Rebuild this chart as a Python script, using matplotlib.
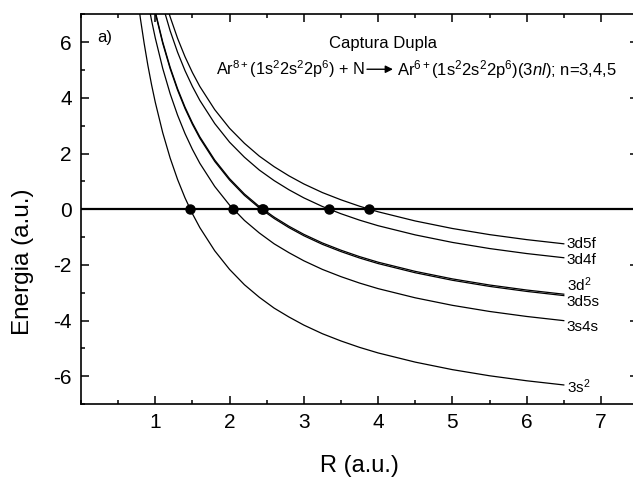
import matplotlib
matplotlib.use('Agg')
import matplotlib.pyplot as plt
from matplotlib.ticker import MultipleLocator

plt.rcParams['font.family'] = ['Liberation Sans', 'DejaVu Sans']
plt.rcParams['mathtext.fontset'] = 'custom'
plt.rcParams['mathtext.rm'] = 'Liberation Sans'
plt.rcParams['mathtext.it'] = 'Liberation Sans:italic'
plt.rcParams['axes.unicode_minus'] = False

# distancia internuclear R (a.u.)
R = [0.75, 0.8, 0.85, 0.9, 0.95, 1.0, 1.1, 1.2, 1.3, 1.4, 1.5, 1.6, 1.8, 2.0,
     2.2, 2.4, 2.6, 2.8, 3.0, 3.25, 3.5, 3.75, 4.0, 4.5, 5.0, 5.5, 6.0, 6.5]

# energias das curvas (a.u.)
E_3s2 = [7.84, 6.84, 5.96, 5.17, 4.47, 3.84, 2.75, 1.84, 1.07, 0.41, -0.16, -0.66,
         -1.49, -2.16, -2.71, -3.16, -3.55, -3.87, -4.16, -4.47, -4.73, -4.96,
         -5.16, -5.49, -5.76, -5.98, -6.16, -6.31]
E_3s4s = [10.15, 9.15, 8.27, 7.48, 6.78, 6.15, 5.06, 4.15, 3.38, 2.72, 2.15, 1.65,
          0.82, 0.15, -0.40, -0.85, -1.24, -1.56, -1.85, -2.16, -2.42, -2.65,
          -2.85, -3.18, -3.45, -3.67, -3.85, -4.00]
E_3d2 = [11.10, 10.10, 9.22, 8.43, 7.73, 7.10, 6.01, 5.10, 4.33, 3.67, 3.10, 2.60,
         1.77, 1.10, 0.55, 0.10, -0.28, -0.61, -0.90, -1.21, -1.47, -1.70,
         -1.90, -2.23, -2.50, -2.72, -2.90, -3.05]
E_3d5s = [11.05, 10.05, 9.17, 8.38, 7.68, 7.05, 5.96, 5.05, 4.28, 3.62, 3.05, 2.55,
          1.72, 1.05, 0.50, 0.05, -0.33, -0.66, -0.95, -1.26, -1.52, -1.75,
          -1.95, -2.28, -2.55, -2.77, -2.95, -3.10]
E_3d4f = [12.41, 11.41, 10.53, 9.74, 9.04, 8.41, 7.32, 6.41, 5.64, 4.98, 4.41, 3.91,
          3.08, 2.41, 1.87, 1.41, 1.03, 0.70, 0.41, 0.10, -0.16, -0.39,
          -0.59, -0.92, -1.19, -1.41, -1.59, -1.74]
E_3d5f = [12.91, 11.91, 11.03, 10.24, 9.54, 8.91, 7.82, 6.91, 6.14, 5.48, 4.91, 4.41,
          3.58, 2.91, 2.37, 1.91, 1.53, 1.20, 0.91, 0.60, 0.34, 0.11,
          -0.09, -0.42, -0.69, -0.91, -1.09, -1.24]

# cruzamentos com E = 0
R_cross = [1.47, 2.05, 2.43, 2.45, 3.34, 3.88]
E_cross = [0, 0, 0, 0, 0, 0]

nomes = ['3s$^2$', '3s4s', '3d$^2$', '3d5s', '3d4f', '3d5f']
curvas = [E_3s2, E_3s4s, E_3d2, E_3d5s, E_3d4f, E_3d5f]

fig = plt.figure(figsize=(6.33, 4.8), dpi=100)
ax = fig.add_axes([0.128, 0.158, 0.880, 0.812])

for E in curvas:
    ax.plot(R, E, color='k', lw=0.9)

ax.axhline(0, color='k', lw=1.6, zorder=3)
ax.plot(R_cross, E_cross, 'o', color='k', ms=6.5, zorder=4)

# rotulos das curvas
pos_y = [-6.37, -4.24, -2.72, -3.32, -1.82, -1.25]
for nome, y in zip(nomes, pos_y):
    ax.text(6.54, y, nome, ha='left', va='center', fontsize=11)

ax.text(0.22, 6.17, 'a)', ha='left', va='center', fontsize=12)
ax.text(4.06, 5.97, 'Captura Dupla', ha='center', va='center', fontsize=12)
ax.text(3.82, 5.03, 'Ar$^{8+}$(1s$^2$2s$^2$2p$^6$) + N', ha='right', va='center',
        fontsize=11.7)
ax.annotate('', xy=(4.20, 5.03), xytext=(3.85, 5.03),
            arrowprops=dict(arrowstyle='-|>', color='k', lw=1.0, mutation_scale=11,
                            shrinkA=0, shrinkB=0))
ax.text(4.25, 5.03, r'Ar$^{6+}$(1s$^2$2s$^2$2p$^6$)(3$\mathit{nl}$); n=3,4,5',
        ha='left', va='center', fontsize=12)

ax.set_xlim(0, 7.5)
ax.set_ylim(-7, 7)
ax.xaxis.set_major_locator(MultipleLocator(1))
ax.xaxis.set_minor_locator(MultipleLocator(0.5))
ax.yaxis.set_major_locator(MultipleLocator(2))
ax.yaxis.set_minor_locator(MultipleLocator(1))
ax.set_xticks([1, 2, 3, 4, 5, 6, 7])

ax.tick_params(which='both', direction='in', top=True, right=True, width=1.1)
ax.tick_params(which='major', length=5.8, labelsize=15, pad=6.5)
ax.tick_params(which='minor', length=2.9)
for s in ax.spines.values():
    s.set_linewidth(1.2)

ax.set_xlabel('R (a.u.)', fontsize=17)
ax.set_ylabel('Energia (a.u.)', fontsize=17.5)
ax.xaxis.set_label_coords(0.5, -0.13)
ax.yaxis.set_label_coords(-0.085, 0.365)

fig.savefig('out.png', dpi=100)
